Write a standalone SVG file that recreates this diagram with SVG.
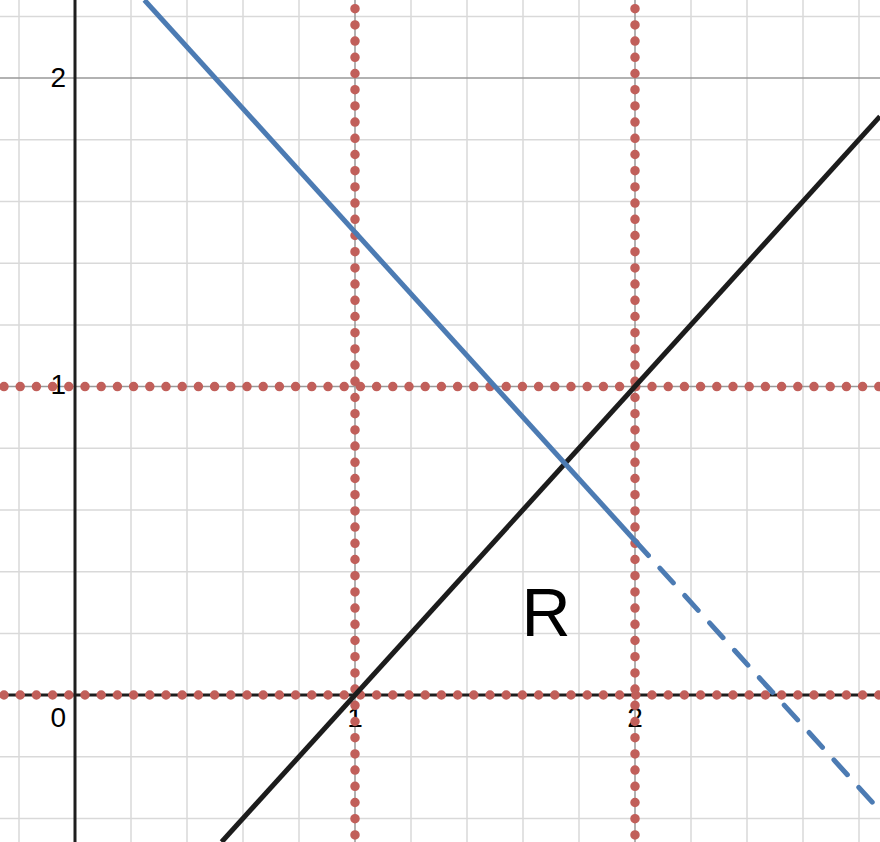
<svg xmlns="http://www.w3.org/2000/svg" width="880" height="842" viewBox="0 0 880 842">
<style>
.minor{stroke:#d9d9d9;stroke-width:1.5;fill:none}
.major{stroke:#999;stroke-width:1.5;fill:none}
.axis{stroke:#1e1e1e;stroke-width:3;fill:none}
.dots{stroke:#c15f5a;stroke-width:9.5;stroke-linecap:round;stroke-dasharray:0 16.2;fill:none}
.lbl{font-family:"Liberation Sans",Arial,sans-serif;font-size:28px;fill:#000}
</style>
<rect width="880" height="842" fill="#fff"/>
<g id="grid-minor" class="minor">
<path d="M19 0V842M131 0V842M187 0V842M243 0V842M299 0V842M411 0V842M467 0V842M523 0V842M579 0V842M691 0V842M747 0V842M803 0V842M859 0V842"/>
<path d="M0 16.4H880M0 139.8H880M0 201.5H880M0 263.2H880M0 324.9H880M0 448.3H880M0 510H880M0 571.7H880M0 633.4H880M0 756.7H880M0 818.4H880"/>
</g>
<g id="grid-major" class="major">
<path d="M355 0V842M635 0V842M0 78.1H880M0 386.6H880"/>
</g>
<g id="axes" class="axis">
<path d="M75 0V842"/>
<path d="M0 695H880"/>
</g>
<g id="tick-labels" class="lbl">
<text x="66" y="86.5" text-anchor="end">2</text>
<text x="66" y="393.5" text-anchor="end">1</text>
<text x="66" y="727" text-anchor="end">0</text>
<text x="355" y="727" text-anchor="middle">1</text>
<text x="635" y="727" text-anchor="middle">2</text>
</g>
<g id="bounds" class="dots">
<path d="M4 386.6H885"/>
<path d="M4 695H885"/>
<path d="M355 8.7V850"/>
<path d="M635 8.7V850"/>
</g>
<g id="curves">
<path id="line-black" d="M221.6 842L880 116.4" stroke="#1c1c1c" stroke-width="5" fill="none"/>
<path id="line-blue-solid" d="M144.4 0L635 540.7" stroke="#4c7bb3" stroke-width="5" fill="none"/>
<path id="line-blue-dashed" d="M635 540.7L880 810.7" stroke="#4c7bb3" stroke-width="5" stroke-linecap="round" stroke-dasharray="20 17" fill="none"/>
</g>
<g id="region-label">
<text x="546" y="636" text-anchor="middle" font-family="Liberation Sans, Arial, sans-serif" font-size="68" fill="#000">R</text>
</g>
</svg>
